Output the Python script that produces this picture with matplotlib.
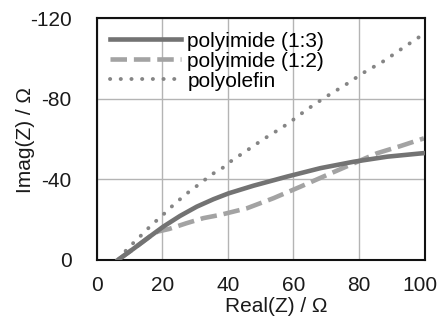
import matplotlib
matplotlib.use("Agg")
import matplotlib.pyplot as plt
from matplotlib.transforms import ScaledTranslation

plt.rcParams['font.family'] = ['Liberation Sans', 'DejaVu Sans']

# polyolefin (dotted)
x_po = [7, 8.6, 11.1, 13.7, 16.2, 18.7, 21.3, 23.9, 26.4, 29, 32, 34.6, 37.6, 40.7, 43.7, 46.8,
        49.3, 52.4, 55.4, 58.5, 64, 69.7, 75.8, 81.4, 87.6, 93.5, 99.3]
y_po = [0, -4.1, -8.3, -12.4, -16.5, -20.2, -24, -28.1, -31.4, -35, -38.3, -42.1, -44.6, -48.7, -52, -55.4,
        -58.2, -61.5, -64.5, -67.8, -74.5, -80.7, -86.8, -92.9, -98.7, -105.3, -111.6]

# polyimide (1:3) (solid)
x_13 = [6.5, 11.1, 16.2, 20.3, 25.4, 30.5, 35.6, 40.2, 47.8, 58, 68.2, 78.4, 88.6, 100]
y_13 = [0, -5.4, -11.6, -16.5, -21.8, -26.4, -30.1, -33, -36.8, -41.3, -45.5, -48.7, -51.2, -53]

# polyimide (1:2) (dashed)
x_12 = [6.5, 11.1, 16.2, 18.5, 22, 27.4, 32.5, 37.6, 45.8, 53.9, 62.1, 70.2, 78.4, 85.5, 92.7, 99.8]
y_12 = [0, -5.4, -11.6, -14, -15.3, -18.2, -20.7, -22.3, -25.6, -30.6, -36.3, -42.1, -47.9, -52.9, -56.5, -60.3]

fig = plt.figure(figsize=(4.4, 3.22), dpi=100)
ax = fig.add_axes([0.22, 0.193, 0.745, 0.751])

ax.plot(x_12, y_12, color='#a3a3a3', lw=3.3, ls=(0, (3.6, 1.5)), label='polyimide (1:2)', zorder=2)
ax.plot(x_13, y_13, color='#737373', lw=3.3, label='polyimide (1:3)', zorder=3)
ax.plot(x_po, y_po, color='#858585', lw=2.8, ls=(0, (0.05, 2.7)), dash_capstyle='round',
        label='polyolefin', zorder=2)

ax.set_xlim(0, 100)
ax.set_ylim(0, -120)
ax.set_xticks([0, 20, 40, 60, 80, 100])
ax.set_yticks([0, -40, -80, -120])
ax.set_yticklabels(['0', '-40', '-80', '-120'])
ax.grid(True, color='#b4b4b4', lw=1)
ax.set_axisbelow(True)
for s in ax.spines.values():
    s.set_linewidth(1.5)
    s.set_color('#111111')
ax.tick_params(length=0, labelsize=15, colors='#1a1a1a')
ax.tick_params(axis='x', pad=11.5)
ax.tick_params(axis='y', pad=18)

ax.set_xlabel('Real(Z) / Ω', fontsize=15, color='#1a1a1a')
ax.set_ylabel('Imag(Z) / Ω', fontsize=15, color='#1a1a1a')
ax.xaxis.set_label_coords(0.546, -0.155)
ax.yaxis.set_label_coords(-0.19, 0.496)

h, l = ax.get_legend_handles_labels()
order = [1, 0, 2]
ax.legend([h[i] for i in order], [l[i] for i in order], loc='upper left', frameon=False,
          fontsize=15, handlelength=3.4, handletextpad=0.3, labelspacing=0.05,
          borderaxespad=0.25, bbox_to_anchor=(0.0, 1.0))

# nudge the last x tick label so it stays inside the figure
last = ax.get_xticklabels()[-1]
last.set_transform(last.get_transform() + ScaledTranslation(-3 / 72, 0, fig.dpi_scale_trans))

fig.savefig('out.png', dpi=100)
